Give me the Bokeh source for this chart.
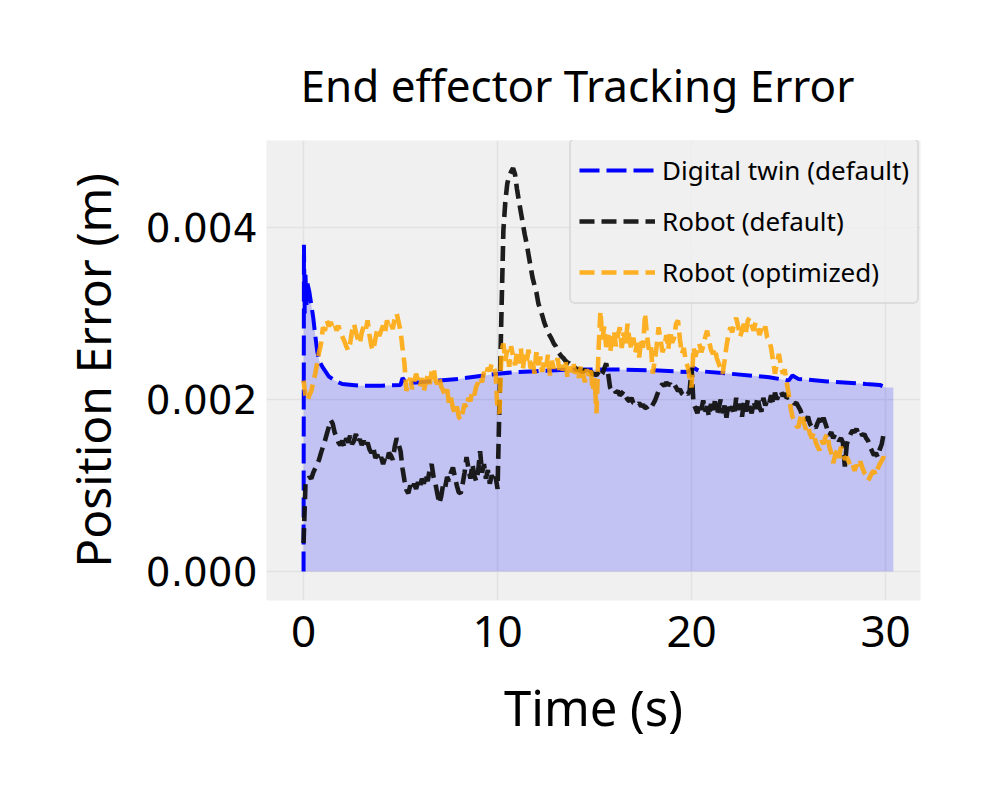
import numpy as np
from bokeh.plotting import figure
from bokeh.models import (FixedTicker, PrintfTickFormatter, Legend, LegendItem)
from bokeh.embed import file_html
from bokeh.resources import INLINE

FONT = "Noto Sans"

# ---------------- data (values in mm, converted to m below) ----------------
twin_t = [0.0, 0.02, 0.06, 0.1, 0.15, 0.2, 0.3, 0.4, 0.5, 0.6, 0.7, 0.8, 1.0, 1.3, 1.6,
          2.0, 2.5, 3.0, 4.0, 5.0, 5.1, 5.3, 6.0, 7.0, 8.0, 9.0, 10.0, 11.0, 12.0, 14.0,
          16.0, 18.0, 19.8, 20.1, 20.4, 22.0, 24.0, 25.0, 25.2, 25.5, 27.0, 29.0, 29.7, 30.0]
twin_mm = [0.0, 3.80, 3.00, 3.45, 3.10, 3.35, 3.25, 3.10, 2.95, 2.75, 2.57, 2.45, 2.37, 2.27, 2.22,
           2.18, 2.17, 2.16, 2.16, 2.17, 2.25, 2.19, 2.20, 2.22, 2.24, 2.27, 2.30, 2.32, 2.33, 2.35,
           2.35, 2.34, 2.32, 2.37, 2.33, 2.30, 2.26, 2.22, 2.28, 2.24, 2.21, 2.18, 2.17, 2.14]
fill_end_t = 30.4

robot_t = np.round(np.arange(0, 301) * 0.1, 1)

robot_default_mm = [
    0.33, 1.02, 1.05, 1.10, 1.08, 1.15, 1.20, 1.25, 1.30, 1.38, 1.45,
    1.52, 1.60, 1.68, 1.76, 1.72, 1.62, 1.56, 1.50, 1.47, 1.52,
    1.45, 1.55, 1.50, 1.58, 1.48, 1.52, 1.60, 1.50, 1.54, 1.47,
    1.52, 1.45, 1.50, 1.42, 1.38, 1.44, 1.32, 1.36, 1.28, 1.33,
    1.25, 1.32, 1.28, 1.38, 1.35, 1.30, 1.45, 1.55, 1.48, 1.40,
    1.20, 1.06, 0.95, 0.91, 1.00, 0.95, 1.02, 0.96, 1.04, 0.98,
    1.08, 1.02, 1.12, 1.05, 1.18, 1.25, 1.10, 1.02, 0.90, 0.79,
    0.88, 1.02, 0.98, 1.10, 1.05, 1.15, 1.21, 1.10, 1.00, 0.92,
    0.91, 1.02, 1.15, 1.33, 1.20, 1.08, 1.25, 1.12, 1.05, 1.17,
    1.40, 1.15, 1.25, 1.08, 1.18, 1.02, 1.12, 1.05, 1.10, 0.96,
    1.99, 3.00, 3.97, 4.30, 4.51, 4.60, 4.65, 4.69, 4.62, 4.45,
    4.31, 4.18, 4.05, 3.92, 3.81, 3.68, 3.55, 3.42, 3.33, 3.25,
    3.12, 3.05, 2.98, 2.90, 2.84, 2.78, 2.74, 2.70, 2.65, 2.62,
    2.56, 2.53, 2.50, 2.48, 2.45, 2.43, 2.42, 2.40, 2.38, 2.37,
    2.34, 2.36, 2.33, 2.32, 2.35, 2.31, 2.30, 2.33, 2.29, 2.30,
    2.28, 2.32, 2.27, 2.30, 2.36, 2.42, 2.30, 2.14, 2.10, 2.12,
    2.08, 2.10, 2.05, 2.07, 2.10, 2.04, 2.00, 1.98, 2.02, 1.96,
    1.95, 1.93, 1.96, 1.92, 1.94, 1.90, 1.91, 1.93, 1.90, 1.94,
    1.98, 2.04, 2.10, 2.15, 2.18, 2.16, 2.20, 2.17, 2.18, 2.15,
    2.18, 2.14, 2.10, 2.12, 2.07, 2.05, 2.08, 2.06, 2.10, 2.37,
    1.95, 1.90, 1.84, 1.95, 1.88, 1.99, 1.86, 1.92, 1.80, 1.95,
    1.85, 1.98, 1.82, 1.90, 2.00, 1.84, 1.93, 1.79, 1.96, 1.87,
    1.92, 1.82, 2.02, 1.88, 1.95, 1.80, 1.97, 1.86, 2.00, 1.90,
    1.84, 1.98, 1.89, 2.03, 1.91, 1.86, 2.02, 1.93, 1.99, 1.95,
    2.05, 1.96, 2.08, 2.00, 2.06, 2.10, 2.04, 2.07, 2.02, 2.03,
    2.00, 1.98, 1.95, 1.96, 1.92, 1.88, 1.82, 1.79, 1.76, 1.80,
    1.72, 1.68, 1.70, 1.67, 1.73, 1.78, 1.70, 1.79, 1.72, 1.65,
    1.58, 1.62, 1.55, 1.60, 1.56, 1.52, 1.55, 1.50, 1.22, 1.48,
    1.55, 1.60, 1.64, 1.62, 1.66, 1.60, 1.63, 1.58, 1.60, 1.55,
    1.52, 1.45, 1.40, 1.35, 1.38, 1.33, 1.42, 1.48, 1.60, 1.62,
]

robot_opt_mm = [
    2.22, 2.05, 1.99, 2.05, 2.10, 2.20, 2.30, 2.42, 2.55, 2.65, 2.84,
    2.80, 2.92, 2.85, 2.90, 2.84, 2.88, 2.80, 2.86, 2.78, 2.73,
    2.68, 2.62, 2.57, 2.65, 2.80, 2.88, 2.78, 2.70, 2.65, 2.78,
    2.85, 2.80, 2.92, 2.75, 2.62, 2.57, 2.70, 2.82, 2.74, 2.80,
    2.86, 2.78, 2.92, 2.84, 2.88, 2.82, 2.95, 3.00, 2.90, 2.80,
    2.60, 2.42, 2.10, 2.18, 2.25, 2.12, 2.20, 2.30, 2.22, 2.15,
    2.25, 2.10, 2.20, 2.28, 2.18, 2.32, 2.37, 2.22, 2.18, 2.25,
    2.15, 2.10, 2.05, 2.12, 1.95, 2.02, 1.90, 1.84, 1.92, 1.80,
    1.76, 1.85, 1.95, 1.90, 2.02, 1.98, 2.10, 2.05, 2.15, 2.20,
    2.26, 2.20, 2.32, 2.28, 2.37, 2.33, 2.42, 2.38, 2.30, 1.87,
    1.84, 2.57, 2.65, 2.45, 2.58, 2.38, 2.62, 2.50, 2.40, 2.55,
    2.42, 2.60, 2.35, 2.52, 2.44, 2.58, 2.36, 2.48, 2.30, 2.55,
    2.40, 2.50, 2.32, 2.46, 2.38, 2.52, 2.28, 2.45, 2.36, 2.42,
    2.48, 2.30, 2.40, 2.34, 2.45, 2.26, 2.38, 2.32, 2.44, 2.30,
    2.36, 2.25, 2.40, 2.30, 2.20, 2.35, 2.28, 2.38, 2.10, 2.25,
    1.84, 2.55, 3.03, 2.70, 2.85, 2.61, 2.75, 2.55, 2.68, 2.80,
    2.62, 2.74, 2.84, 2.60, 2.78, 2.65, 2.88, 2.69, 2.58, 2.72,
    2.55, 2.66, 2.49, 2.70, 2.60, 3.00, 2.75, 2.58, 2.65, 2.30,
    2.45, 2.62, 2.84, 2.70, 2.55, 2.61, 2.75, 2.58, 2.80, 2.66,
    2.72, 2.88, 2.92, 2.70, 2.53, 2.60, 2.45, 2.38, 2.25, 2.14,
    2.61, 2.50, 2.58, 2.65, 2.55, 2.62, 2.72, 2.80, 2.68, 2.58,
    2.53, 2.60, 2.48, 2.42, 2.35, 2.30, 2.45, 2.62, 2.75, 2.84,
    2.78, 2.90, 2.95, 2.85, 2.73, 2.80, 2.88, 2.78, 2.92, 2.95,
    2.86, 2.80, 2.90, 2.84, 2.75, 2.82, 2.77, 2.85, 2.72, 2.69,
    2.60, 2.45, 2.30, 2.42, 2.53, 2.40, 2.30, 2.35, 2.20, 2.07,
    1.91, 1.80, 1.75, 1.70, 1.67, 1.78, 1.84, 1.72, 1.65, 1.70,
    1.60, 1.55, 1.62, 1.50, 1.45, 1.41, 1.52, 1.48, 1.56, 1.60,
    1.45, 1.38, 1.26, 1.35, 1.41, 1.32, 1.45, 1.38, 1.30, 1.33,
    1.28, 1.22, 1.25, 1.17, 1.24, 1.20, 1.28, 1.21, 1.15, 1.12,
    1.06, 1.10, 1.15, 1.17, 1.12, 1.20, 1.25, 1.29, 1.33, 1.30,
]

x_ticks = [0, 10, 20, 30]
y_ticks = [0.0, 0.002, 0.004]
labels = ["Digital twin (default)", "Robot (default)", "Robot (optimized)"]

# convert mm -> m
twin_v = [v * 1e-3 for v in twin_mm]
robot_default = [v * 1e-3 for v in robot_default_mm]
robot_opt = [v * 1e-3 for v in robot_opt_mm]
fill_t = twin_t + [fill_end_t]
fill_v = twin_v + [twin_v[-1]]

# ---------------- figure ----------------
p = figure(width=989, height=789, x_range=(-1.91, 31.8), y_range=(-0.000337, 0.005012),
           output_backend="svg", toolbar_location=None,
           min_border_left=266, min_border_right=69, min_border_top=140, min_border_bottom=189,
           title="End effector Tracking Error")

p.background_fill_color = "#f0f0f0"
p.border_fill_color = "white"
p.outline_line_color = None

p.title.text_font = FONT
p.title.text_font_size = "44px"
p.title.text_font_style = "normal"
p.title.align = "left"
p.title.standoff = 52
p.title.offset = 34
p.title.text_color = "black"

for ax in (p.xaxis[0], p.yaxis[0]):
    ax.axis_line_color = None
    ax.major_tick_line_color = None
    ax.minor_tick_line_color = None
    ax.major_label_text_color = "black"
    ax.axis_label_text_font = FONT
    ax.axis_label_text_font_style = "normal"
    ax.axis_label_text_color = "black"

p.xaxis[0].major_label_text_font = FONT
p.xaxis[0].major_label_text_font_size = "44px"
p.yaxis[0].major_label_text_font = "DejaVu Sans"
p.yaxis[0].major_label_text_font_size = "39px"
p.xaxis[0].axis_label_text_font_size = "49px"
p.yaxis[0].axis_label_text_font_size = "48px"

p.xaxis[0].ticker = FixedTicker(ticks=x_ticks)
p.yaxis[0].ticker = FixedTicker(ticks=y_ticks)
p.yaxis[0].formatter = PrintfTickFormatter(format="%.3f")
p.xaxis[0].axis_label = "Time (s)"
p.yaxis[0].axis_label = "Position Error (m)"
p.xaxis[0].major_label_standoff = 9
p.yaxis[0].major_label_standoff = 3
p.xaxis[0].axis_label_standoff = 24
p.yaxis[0].axis_label_standoff = 18

p.xgrid.grid_line_color = "#e2e2e2"
p.ygrid.grid_line_color = "#e2e2e2"
p.xgrid.grid_line_width = 1.5
p.ygrid.grid_line_width = 1.5

# ---------------- glyphs ----------------
p.varea(x=fill_t, y1=[0.0] * len(fill_t), y2=fill_v, fill_color="blue", fill_alpha=0.19)
r_twin = p.line(twin_t, twin_v, line_color="blue", line_width=4, line_dash="20 7")
r_def = p.line(robot_t, robot_default, line_color="#111111", line_alpha=0.95,
               line_width=4.6, line_dash="15 7")
r_opt = p.line(robot_t, robot_opt, line_color="orange", line_alpha=0.85,
               line_width=4.6, line_dash="15 7")

legend = Legend(items=[LegendItem(label=labels[0], renderers=[r_twin]),
                       LegendItem(label=labels[1], renderers=[r_def]),
                       LegendItem(label=labels[2], renderers=[r_opt])],
                location=(303, 296))
legend.label_text_font = FONT
legend.label_text_font_size = "26px"
legend.label_text_color = "black"
legend.glyph_width = 76
legend.glyph_height = 44
legend.label_height = 44
legend.label_standoff = 7
legend.spacing = 7
legend.padding = 8
legend.margin = 0
legend.border_line_color = "#c8c8c8"
legend.border_line_width = 2
legend.background_fill_color = "#f0f0f0"
legend.background_fill_alpha = 0.8
try:
    legend.border_radius = 6
except Exception:
    pass
p.add_layout(legend, "center")

open("out.html", "w").write(file_html(p, INLINE))
